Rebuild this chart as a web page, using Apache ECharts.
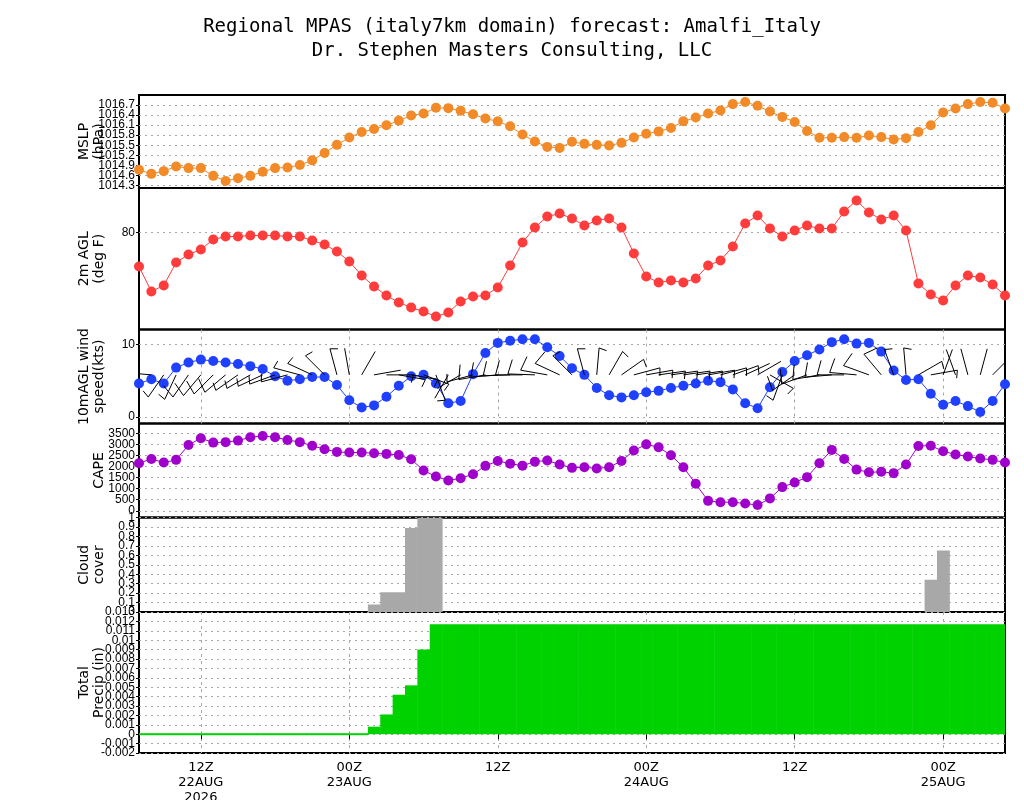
<!DOCTYPE html>
<html><head><meta charset="utf-8">
<script src="https://cdn.jsdelivr.net/npm/echarts@6/dist/echarts.min.js"></script>
<style>html,body{margin:0;padding:0;background:#fff}#c{width:1024px;height:800px}</style>
</head><body><div id="c"></div>
<script>
// ---- DATA (hourly, 07Z 22AUG 2026 .. 05Z 25AUG 2026) ----
const mslp = [1014.77,1014.65,1014.73,1014.87,1014.82,1014.82,1014.59,1014.44,1014.52,1014.59,
  1014.71,1014.82,1014.84,1014.91,1015.05,1015.27,1015.51,1015.73,1015.89,1015.98,
  1016.09,1016.23,1016.38,1016.44,1016.61,1016.60,1016.52,1016.42,1016.29,1016.21,
  1016.06,1015.82,1015.61,1015.45,1015.42,1015.60,1015.54,1015.51,1015.49,1015.57,
  1015.73,1015.84,1015.91,1016.01,1016.21,1016.32,1016.44,1016.53,1016.72,1016.78,
  1016.67,1016.50,1016.34,1016.19,1015.92,1015.72,1015.72,1015.74,1015.72,1015.79,
  1015.74,1015.67,1015.71,1015.89,1016.09,1016.47,1016.59,1016.72,1016.78,1016.76,1016.59];
const temp2m = [76.6,74.1,74.7,77.0,77.8,78.3,79.3,79.6,79.6,79.7,
  79.7,79.7,79.6,79.6,79.2,78.8,78.1,77.1,75.7,74.6,
  73.7,73.0,72.5,72.1,71.6,72.0,73.1,73.6,73.7,74.5,
  76.7,79.0,80.5,81.6,81.9,81.4,80.7,81.2,81.4,80.5,
  77.9,75.6,75.0,75.2,75.0,75.4,76.7,77.2,78.6,80.9,
  81.7,80.4,79.6,80.2,80.7,80.4,80.4,82.1,83.2,82.0,
  81.3,81.7,80.2,74.9,73.8,73.2,74.7,75.7,75.5,74.8,73.7];
const windSpeed = [4.6,5.2,4.6,6.8,7.5,7.9,7.7,7.5,7.3,7.0,
  6.6,5.6,5.0,5.2,5.5,5.5,4.4,2.3,1.3,1.6,
  2.8,4.3,5.6,5.8,4.6,1.9,2.2,5.9,8.8,10.2,
  10.5,10.7,10.7,9.6,8.4,6.7,5.8,4.0,3.0,2.7,
  3.0,3.4,3.6,4.0,4.3,4.6,5.0,4.8,3.8,1.9,
  1.2,4.1,6.2,7.7,8.5,9.3,10.3,10.7,10.1,10.2,
  9.0,6.4,5.1,5.2,3.2,1.7,2.2,1.5,0.7,2.2,4.5];
const windDir = [280,275,215,205,215,220,225,230,235,240,
  245,250,255,285,295,315,345,350,30,80,
  90,100,100,110,160,210,240,255,260,265,
  268,270,272,280,295,315,345,5,30,55,
  75,80,82,82,82,82,80,75,70,65,
  60,120,200,235,250,260,265,270,275,290,
  320,340,355,60,80,20,340,345,15,45,90];
const cape = [2150,2340,2180,2300,2970,3280,3080,3100,3170,3320,
  3380,3320,3200,3100,2940,2780,2660,2630,2630,2600,
  2570,2520,2330,1820,1550,1370,1470,1650,2030,2250,
  2130,2040,2220,2270,2090,1940,1970,1910,1970,2250,
  2720,3000,2870,2510,1970,1220,450,390,390,330,
  260,560,1070,1280,1520,2150,2750,2340,1860,1740,
  1760,1700,2090,2930,2940,2690,2540,2450,2360,2300,2180];
const cloud = [0,0,0,0,0,0,0,0,0,0,
  0,0,0,0,0,0,0,0,0,0.08,
  0.21,0.21,0.89,1.0,1.0,0,0,0,0,0,
  0,0,0,0,0,0,0,0,0,0,
  0,0,0,0,0,0,0,0,0,0,
  0,0,0,0,0,0,0,0,0,0,
  0,0,0,0,0.34,0.65,0,0,0,0,0];
const precip = [0,0,0,0,0,0,0,0,0,0,
  0,0,0,0,0,0,0,0,0.00014,0.0008,
  0.0021,0.0042,0.0052,0.0090,0.0117,0.0117,0.0117,0.0117,0.0117,0.0117,
  0.0117,0.0117,0.0117,0.0117,0.0117,0.0117,0.0117,0.0117,0.0117,0.0117,
  0.0117,0.0117,0.0117,0.0117,0.0117,0.0117,0.0117,0.0117,0.0117,0.0117,
  0.0117,0.0117,0.0117,0.0117,0.0117,0.0117,0.0117,0.0117,0.0117,0.0117,
  0.0117,0.0117,0.0117,0.0117,0.0117,0.0117,0.0117,0.0117,0.0117,0.0117,0.0117];
const xTickIndex = [5,17,29,41,53,65];
const xTickText = ['12Z\n22AUG\n2026','00Z\n23AUG','12Z','00Z\n24AUG','12Z','00Z\n25AUG'];
const mslpTicks = [1014.3,1014.6,1014.9,1015.2,1015.5,1015.8,1016.1,1016.4,1016.7];
const tempTicks = [80];
const windTicks = [0,10];
const capeTicks = [0,500,1000,1500,2000,2500,3000,3500];
const cloudTicks = [0,0.1,0.2,0.3,0.4,0.5,0.6,0.7,0.8,0.9,1];
const precipTicks = [-0.002,-0.001,0,0.001,0.002,0.003,0.004,0.005,0.006,0.007,0.008,0.009,0.01,0.011,0.012,0.013];
const titleLines = ['Regional MPAS (italy7km domain) forecast: Amalfi_Italy','Dr. Stephen Masters Consulting, LLC'];

// ---- CHART ----
const hours = mslp.map((_, i) => 'h' + i);
const BARB_LEVEL = 5.8;
const LBL_FONT = 'Liberation Sans, Arial, sans-serif';
const NAME_FONT = 'DejaVu Sans, sans-serif';
const TITLE_FONT = 'DejaVu Sans Mono, monospace';

const panels = [
  {top: 95, height: 93},
  {top: 188, height: 141.5},
  {top: 329.5, height: 94},
  {top: 423.5, height: 94},
  {top: 517.5, height: 94.5},
  {top: 612, height: 141}
];
const grids = panels.map(p => ({left: 139, right: 19, top: p.top, height: p.height,
  show: true, borderColor: '#000', borderWidth: 2, backgroundColor: 'transparent', outerBoundsMode: 'none', containLabel: false}));

const isTick = (i) => xTickIndex.indexOf(i) >= 0;
const dotted = {color: '#a8a8a8', width: 1, type: [2, 4]};
const dashed = {color: '#a8a8a8', width: 1, type: [3, 4]};

const xAxes = panels.map((p, gi) => ({
  type: 'category', gridIndex: gi, data: hours, boundaryGap: false,
  axisLine: {show: false},
  axisTick: {show: gi === 5, interval: (i) => isTick(i), length: 5, inside: false, lineStyle: {color: '#000', width: 1}},
  axisLabel: {show: gi === 5, interval: (i) => isTick(i), color: '#000', fontFamily: NAME_FONT, fontSize: 13, lineHeight: 15, margin: 7,
    hideOverlap: false,
    formatter: (v, i) => { const k = xTickIndex.indexOf(i); return k >= 0 ? xTickText[k] : ''; }},
  splitLine: {show: gi === 2 || gi === 5, interval: (i) => isTick(i), lineStyle: dashed}
}));

const defFmt = (v) => String(+(+v).toFixed(4));
const labelBase = {color: '#000', fontFamily: LBL_FONT, fontSize: 12, margin: 4, hideOverlap: false,
  showMinLabel: true, showMaxLabel: true};

// primary axis: all ticks + gridlines + even labels; secondary axis: odd labels only
const primaryY = [], secondaryY = [];
function addY(gi, min, max, ticks, name, fmt) {
  const f = fmt || defFmt;
  const even = ticks.filter((_, k) => k % 2 === 0);
  const odd = ticks.filter((_, k) => k % 2 === 1);
  primaryY.push({
    type: 'value', gridIndex: gi, min: min, max: max, position: 'left',
    name: name, nameLocation: 'middle', nameRotate: 90, nameGap: 32, nameMoveOverlap: false,
    nameTextStyle: {color: '#000', fontFamily: NAME_FONT, fontSize: 14, lineHeight: 15, align: 'center'},
    axisLine: {show: false},
    axisTick: {show: true, length: 3, lineStyle: {color: '#000'}, customValues: ticks},
    axisLabel: Object.assign({}, labelBase, {customValues: even, formatter: f}),
    splitLine: {show: true, lineStyle: dotted}
  });
  secondaryY.push({
    type: 'value', gridIndex: gi, min: min, max: max, position: 'left', offset: 0,
    axisLine: {show: false}, axisTick: {show: false}, splitLine: {show: false},
    axisLabel: Object.assign({}, labelBase, {show: odd.length > 0, customValues: odd.length ? odd : [min], formatter: f})
  });
}
addY(0, 1014.23, 1016.99, mslpTicks, 'MSLP\n(hPa)', (v) => (+v).toFixed(1));
addY(1, 70.3, 84.45, tempTicks, '2m AGL\n(deg F)');
addY(2, -0.89, 12.04, windTicks, '10mAGL wind\nspeed(kts)');
addY(3, -302, 3942, capeTicks, 'CAPE');
addY(4, 0, 1, cloudTicks, 'Cloud\ncover');
addY(5, -0.002, 0.013, precipTicks, 'Total\nPrecip (in)');
const yAxes = primaryY.concat(secondaryY);

function lineSeries(gi, data, color) {
  return {type: 'line', xAxisIndex: gi, yAxisIndex: gi, data: data, symbol: 'circle', symbolSize: 10,
    showAllSymbol: true, clip: true, animation: false,
    itemStyle: {color: color}, lineStyle: {color: color, width: 1}};
}

function renderBarb(params, api) {
  const i = api.value(0), spd = api.value(1), dir = api.value(2);
  const base = api.coord([i, BARB_LEVEL]);
  const L = 27;
  const r = dir * Math.PI / 180;
  const ux = Math.sin(r), uy = -Math.cos(r);
  const tip = [base[0] + ux * L, base[1] + uy * L];
  const st = {stroke: '#000', lineWidth: 1, fill: null};
  const ch = [{type: 'line', shape: {x1: base[0], y1: base[1], x2: tip[0], y2: tip[1]}, style: st}];
  const n5 = Math.round(spd / 5);
  const full = Math.floor(n5 / 2), half = n5 % 2;
  const a = 105 * Math.PI / 180;
  const bx = ux * Math.cos(a) - uy * Math.sin(a), by = ux * Math.sin(a) + uy * Math.cos(a);
  let pos = 0;
  for (let k = 0; k < full; k++) {
    const px = tip[0] - ux * pos, py = tip[1] - uy * pos;
    ch.push({type: 'line', shape: {x1: px, y1: py, x2: px + bx * 15, y2: py + by * 15}, style: st});
    pos += 4;
  }
  if (half) {
    const px = tip[0] - ux * pos, py = tip[1] - uy * pos;
    ch.push({type: 'line', shape: {x1: px, y1: py, x2: px + bx * 8, y2: py + by * 8}, style: st});
  }
  return {type: 'group', children: ch};
}

function barRenderer(minH) {
  return function (params, api) {
    const i = api.value(0), v = api.value(1);
    const p0 = api.coord([i, 0]);
    const p1 = api.coord([i, v]);
    const w = Math.abs(api.coord([1, 0])[0] - api.coord([0, 0])[0]);
    let y = Math.min(p0[1], p1[1]), h = Math.abs(p0[1] - p1[1]);
    if (h < minH) { y = p0[1] - minH / 2; h = minH; }
    if (h <= 0) return null;
    return {type: 'rect', shape: {x: p0[0] - w / 2, y: y, width: w + 0.5, height: h}, style: api.style()};
  };
}

const option = {
  backgroundColor: '#fff',
  animation: false,
  title: [
    {text: titleLines[0], left: 'center', top: 13, textStyle: {color: '#000', fontFamily: TITLE_FONT, fontSize: 19, fontWeight: 'normal'}},
    {text: titleLines[1], left: 'center', top: 37, textStyle: {color: '#000', fontFamily: TITLE_FONT, fontSize: 19, fontWeight: 'normal'}}
  ],
  grid: grids,
  xAxis: xAxes,
  yAxis: yAxes,
  series: [
    lineSeries(0, mslp, '#F28A28'),
    lineSeries(1, temp2m, '#FF3C3C'),
    lineSeries(2, windSpeed, '#2040FF'),
    {type: 'custom', xAxisIndex: 2, yAxisIndex: 2, clip: true, z: 5, silent: true,
      data: windSpeed.map((s, i) => [i, s, windDir[i]]), renderItem: renderBarb},
    lineSeries(3, cape, '#A000CC'),
    {type: 'custom', xAxisIndex: 4, yAxisIndex: 4, clip: true, silent: true, encode: {x: 0, y: 1},
      data: cloud.map((v, i) => [i, v]), renderItem: barRenderer(0), itemStyle: {color: '#A8A8A8'}},
    {type: 'custom', xAxisIndex: 5, yAxisIndex: 5, clip: true, silent: true, encode: {x: 0, y: 1},
      data: precip.map((v, i) => [i, v]), renderItem: barRenderer(2), itemStyle: {color: '#00D200'}}
  ]
};
const chart = echarts.init(document.getElementById('c'), null, {renderer: 'canvas'});
chart.setOption(option);
</script>
</body></html>
